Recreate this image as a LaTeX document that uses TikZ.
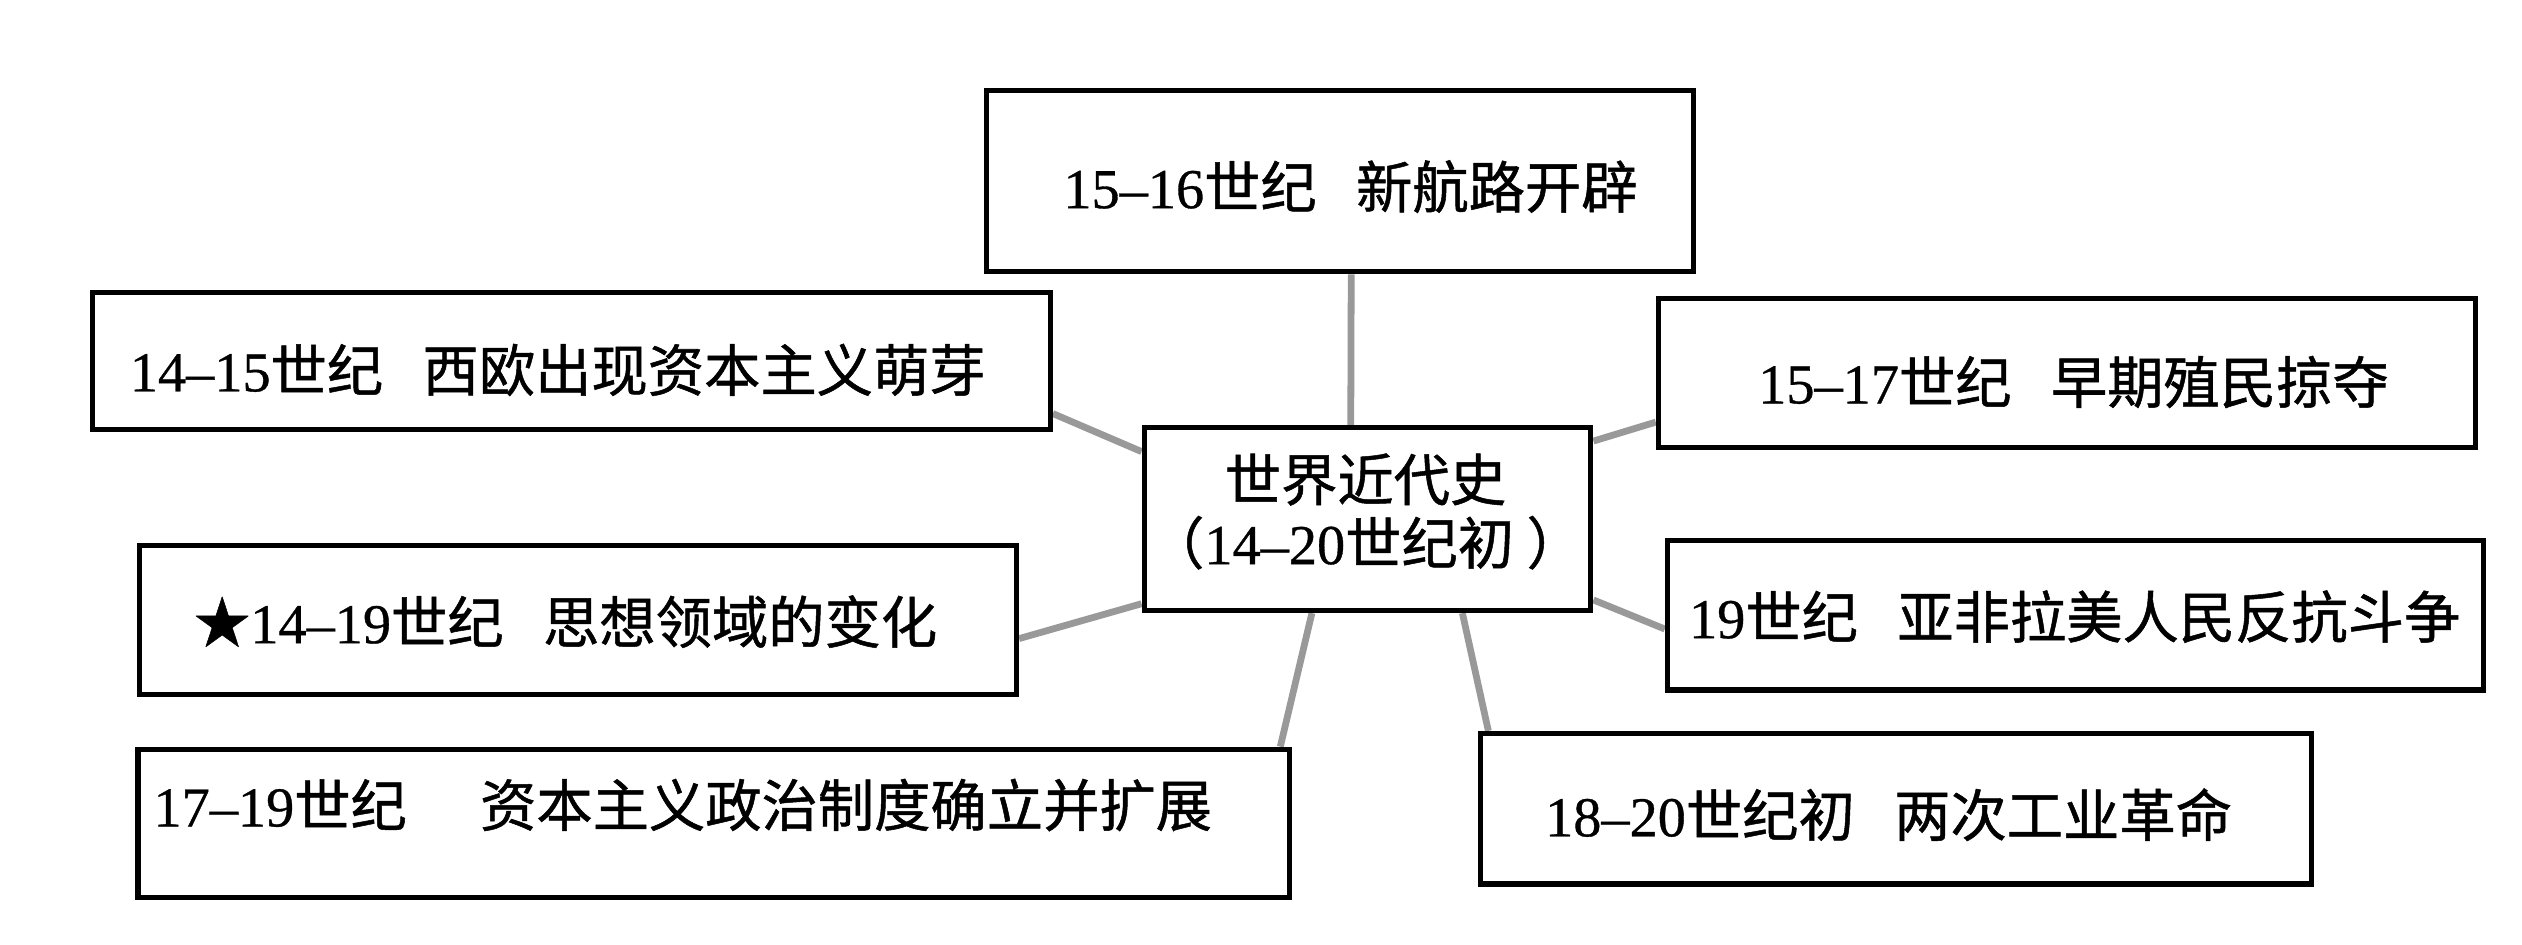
\documentclass[tikz,border=0pt]{standalone}
\usepackage{fontspec}
\setmainfont{Liberation Serif}[FakeBold=0.6]
\newfontfamily\cjk{Noto Sans CJK SC}[FakeBold=0.9]
\newcommand\zh[1]{{\cjk #1}}
\usetikzlibrary{calc,backgrounds}
\begin{document}
\begin{tikzpicture}[x=0.5mm,y=-0.5mm,
  box/.style={draw=black,line width=4.5pt,fill=white,inner sep=0pt},
  lbl/.style={anchor=west,inner sep=0pt,font=\fontsize{49.8}{56}\selectfont},
  conn/.style={draw=black!40,line width=6pt}]
\useasboundingbox (0,0) rectangle (1568,587);
% boxes
\node[box,minimum width=219.8mm,minimum height=56.5mm] (t)  at (833,112.5) {};
\node[box,minimum width=297.7mm,minimum height=42.5mm] (b2) at (355.3,224.5) {};
\node[box,minimum width=272.6mm,minimum height=46.5mm] (b5) at (359.4,385.5) {};
\node[box,minimum width=138.9mm,minimum height=56.8mm] (c)  at (850.2,322.8) {};
\node[box,minimum width=254mm,minimum height=46.3mm]   (b4) at (1285,231.8) {};
\node[box,minimum width=253.7mm,minimum height=46.6mm] (b6) at (1290.3,382.4) {};
\node[box,minimum width=258.2mm,minimum height=46.8mm] (b8) at (1178.9,502.8) {};
\node[box,minimum width=357.9mm,minimum height=46.1mm] (b7) at (443.7,511.9) {};
% connectors
\begin{scope}[on background layer]
\fill[white] (0,0) rectangle (1568,587);
\draw[conn] ($(c.north west)!0.463!(c.north east)$) -- ($(t.south west)!0.516!(t.south east)$);
\draw[conn] ($(c.north west)!0.14!(c.south west)$) -- ($(b2.north east)!0.87!(b2.south east)$);
\draw[conn] ($(c.north west)!0.95!(c.south west)$) -- ($(b5.north east)!0.62!(b5.south east)$);
\draw[conn] ($(c.south west)!0.377!(c.south east)$) -- ($(b7.north west)!0.99!(b7.north east)$);
\draw[conn] ($(c.south west)!0.71!(c.south east)$) -- ($(b8.north west)!0.012!(b8.north east)$);
\draw[conn] ($(c.north east)!0.084!(c.south east)$) -- ($(b4.north west)!0.82!(b4.south west)$);
\draw[conn] ($(c.north east)!0.93!(c.south east)$) -- ($(b6.north west)!0.59!(b6.south west)$);
\end{scope}
% labels
\node[lbl] (lt) at (661,116) {15--16\zh{世纪\hspace{0.7em}新航路开辟}};
\node[lbl] (l2) at (80.6,230) {14--15\zh{世纪\hspace{0.7em}西欧出现资本主义萌芽}};
\node[lbl] (l5) at (120.5,386.5) {\zh{★}14--19\zh{世纪\hspace{0.7em}思想领域的变化}};
\node[lbl] (l4) at (1093,237.5) {15--17\zh{世纪\hspace{0.7em}早期殖民掠夺}};
\node[lbl] (l6) at (1050,383.4) {19\zh{世纪\hspace{0.7em}亚非拉美人民反抗斗争}};
\node[lbl] (l8) at (960.5,506.5) {18--20\zh{世纪初\hspace{0.7em}两次工业革命}};
\node[lbl] (l7) at (95.3,500.5) {17--19\zh{世纪\hspace{1.3em}资本主义政治制度确立并扩展}};
\node[inner sep=0pt,align=center,font=\fontsize{49.8}{56}\selectfont] (lc) at (849,318)
  {\zh{世界近代史}\\\zh{（}14--20\zh{世纪初 ）}};
\end{tikzpicture}
\end{document}
